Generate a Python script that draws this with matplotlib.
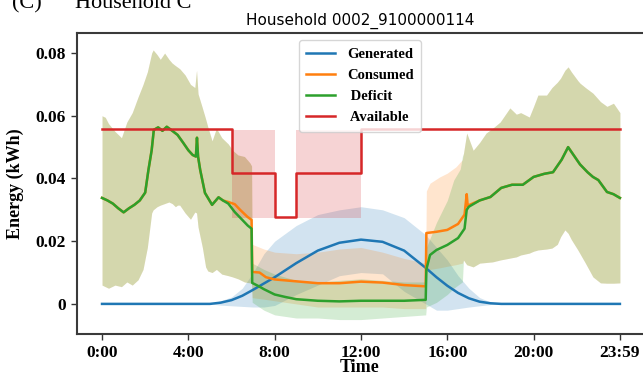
import numpy as np
import matplotlib
matplotlib.use("Agg")
import matplotlib.pyplot as plt

# hours of day for the generated series
gen_t = [0, 5.0, 5.5, 6.0, 6.5, 7.0, 7.5, 8.0, 9.0, 10.0, 11.0, 12.0, 13.0, 14.0,
         15.0, 15.5, 16.0, 16.5, 17.0, 17.5, 18.0, 18.5, 24.0]
gen_mean = [0, 0, 0.0004, 0.0012, 0.0026, 0.0045, 0.0065, 0.0085, 0.0130, 0.0170, 0.0195,
            0.0205, 0.0198, 0.0170, 0.0115, 0.0085, 0.0058, 0.0035, 0.0018, 0.0007, 0.0002, 0, 0]
gen_hi = [0, 0.0001, 0.0010, 0.0022, 0.0050, 0.0100, 0.0160, 0.0200, 0.0250, 0.0285, 0.0300,
          0.0310, 0.0300, 0.0275, 0.0220, 0.0180, 0.0140, 0.0090, 0.0050, 0.0020, 0.0006, 0.0001, 0]
gen_lo = [0, 0, -0.0004, -0.0006, -0.0008, -0.0010, -0.0010, -0.0005, 0.0030, 0.0060, 0.0090,
          0.0100, 0.0096, 0.0040, 0.0000, -0.0020, -0.0020, -0.0015, -0.0010, -0.0006, -0.0002, 0, 0]

con_t = [0.0, 0.25, 0.5, 0.75, 1.0, 1.25, 1.5, 1.75, 2.0, 2.15, 2.3, 2.4, 2.6, 2.8, 3.0, 3.2,
         3.5, 3.75, 4.0, 4.2, 4.35, 4.4, 4.45, 4.55, 4.77, 5.1, 5.4, 5.6, 5.85, 6.15, 6.4, 6.75,
         6.93, 6.96, 7.3, 7.6, 8.0, 9.0, 10.0, 11.0, 12.0, 13.0, 14.0, 15.0, 15.03, 15.5, 16.0,
         16.5, 16.8, 16.9, 16.95, 17.0, 17.5, 18.0, 18.5, 19.0, 19.5, 20.0, 20.5, 20.9, 21.3,
         21.6, 21.9, 22.15, 22.5, 22.75, 23.0, 23.4, 23.7, 24.0]
con_mean = [0.0338, 0.0330, 0.0320, 0.0305, 0.0292, 0.0305, 0.0316, 0.0330, 0.0355, 0.0427,
            0.0490, 0.0555, 0.0563, 0.0552, 0.0565, 0.0555, 0.0539, 0.0515, 0.0490, 0.0475,
            0.0470, 0.0530, 0.0470, 0.0427, 0.0354, 0.0316, 0.0340, 0.0330, 0.0325, 0.0318,
            0.0300, 0.0277, 0.0268, 0.0102, 0.0100, 0.0085, 0.0078, 0.0072, 0.0066, 0.0066,
            0.0071, 0.0068, 0.0060, 0.0056, 0.0226, 0.0230, 0.0236, 0.0255, 0.0285, 0.0350,
            0.0310, 0.0315, 0.0330, 0.0341, 0.0370, 0.0380, 0.0380, 0.0405, 0.0415, 0.0420,
            0.0460, 0.0500, 0.0470, 0.0445, 0.0420, 0.0405, 0.0395, 0.0357, 0.0350, 0.0338]

def_t = [0.0, 0.25, 0.5, 0.75, 1.0, 1.25, 1.5, 1.75, 2.0, 2.15, 2.3, 2.4, 2.6, 2.8, 3.0, 3.2,
         3.5, 3.75, 4.0, 4.2, 4.35, 4.4, 4.45, 4.55, 4.77, 5.1, 5.4, 5.6, 5.85, 6.15, 6.5, 6.75,
         6.93, 6.96, 7.3, 7.5, 8.0, 8.5, 9.0, 10.0, 11.0, 12.0, 13.0, 14.0, 15.0, 15.03, 15.2,
         15.5, 16.0, 16.5, 16.8, 16.9, 17.0, 17.5, 18.0, 18.5, 19.0, 19.5, 20.0, 20.5, 20.9,
         21.3, 21.6, 21.9, 22.15, 22.5, 22.75, 23.0, 23.4, 23.7, 24.0]
def_mean = [0.0338, 0.0330, 0.0320, 0.0305, 0.0292, 0.0305, 0.0316, 0.0330, 0.0355, 0.0427,
            0.0490, 0.0555, 0.0563, 0.0552, 0.0565, 0.0555, 0.0539, 0.0515, 0.0490, 0.0475,
            0.0470, 0.0530, 0.0470, 0.0427, 0.0354, 0.0316, 0.0340, 0.0330, 0.0320, 0.0293,
            0.0268, 0.0250, 0.0240, 0.0067, 0.0055, 0.0047, 0.0030, 0.0022, 0.0015, 0.0010,
            0.0008, 0.0010, 0.0010, 0.0010, 0.0013, 0.0110, 0.0156, 0.0172, 0.0188, 0.0210,
            0.0240, 0.0300, 0.0310, 0.0330, 0.0341, 0.0370, 0.0380, 0.0380, 0.0405, 0.0415,
            0.0420, 0.0460, 0.0500, 0.0470, 0.0445, 0.0420, 0.0405, 0.0395, 0.0357, 0.0350, 0.0338]

# spread shared by consumed and deficit before the drop and in the evening
early_t = [0.0, 0.15, 0.3, 0.6, 0.9, 1.15, 1.4, 1.67, 1.9, 2.1, 2.3, 2.37, 2.55, 2.7, 2.9, 3.1,
           3.25, 3.4, 3.5, 3.6, 3.85, 4.1, 4.3, 4.38, 4.45, 4.65, 4.8, 4.9, 5.1, 5.3, 5.55,
           5.85, 6.05, 6.3, 6.6, 6.85, 6.93]
early_hi = [0.0600, 0.0595, 0.0575, 0.0550, 0.0530, 0.0580, 0.0610, 0.0660, 0.0700, 0.0740,
            0.0800, 0.0810, 0.0795, 0.0780, 0.0800, 0.0780, 0.0768, 0.0760, 0.0755, 0.0750,
            0.0730, 0.0700, 0.0690, 0.0745, 0.0670, 0.0625, 0.0590, 0.0565, 0.0520, 0.0560,
            0.0530, 0.0510, 0.0490, 0.0475, 0.0470, 0.0450, 0.0440]
early_lo = [0.0060, 0.0055, 0.0050, 0.0060, 0.0055, 0.0070, 0.0060, 0.0077, 0.0110, 0.0180,
            0.0290, 0.0300, 0.0310, 0.0315, 0.0320, 0.0325, 0.0320, 0.0310, 0.0315, 0.0315,
            0.0290, 0.0270, 0.0293, 0.0290, 0.0245, 0.0180, 0.0118, 0.0105, 0.0100, 0.0110,
            0.0095, 0.0090, 0.0086, 0.0080, 0.0070, 0.0067, 0.0066]

late_t = [16.75, 16.9, 17.2, 17.5, 17.8, 18.1, 18.45, 18.9, 19.2, 19.4, 19.8, 20.0, 20.2, 20.6,
          20.85, 21.1, 21.25, 21.45, 21.6, 21.75, 22.05, 22.15, 22.4, 22.75, 23.1, 23.4, 23.7, 24.0]
late_hi = [0.0480, 0.0545, 0.0490, 0.0515, 0.0545, 0.0560, 0.0580, 0.0625, 0.0605, 0.0610,
           0.0596, 0.0630, 0.0666, 0.0666, 0.0690, 0.0707, 0.0720, 0.0745, 0.0756, 0.0740,
           0.0712, 0.0704, 0.0690, 0.0672, 0.0645, 0.0630, 0.0640, 0.0610]
late_lo = [0.0140, 0.0125, 0.0118, 0.0130, 0.0132, 0.0134, 0.0140, 0.0146, 0.0150, 0.0156,
           0.0162, 0.0168, 0.0172, 0.0175, 0.0178, 0.0190, 0.0214, 0.0236, 0.0225, 0.0205,
           0.0172, 0.0160, 0.0130, 0.0086, 0.0067, 0.0066, 0.0066, 0.0067]

con_mid_t = [6.96, 7.5, 8.0, 9.0, 10.0, 11.0, 12.0, 13.0, 14.0, 15.0, 15.03, 15.2, 15.65,
             16.0, 16.4, 16.7]
con_mid_hi = [0.0190, 0.0175, 0.0165, 0.0160, 0.0165, 0.0175, 0.0180, 0.0165, 0.0145, 0.0130,
              0.0360, 0.0385, 0.0405, 0.0417, 0.0437, 0.0460]
con_mid_lo = [0.0020, 0.0015, 0.0010, 0.0000, -0.0010, -0.0010, -0.0010, -0.0010, -0.0015,
              -0.0015, 0.0100, 0.0110, 0.0115, 0.0120, 0.0125, 0.0130]

def_mid_t = [6.96, 7.5, 8.0, 9.0, 10.0, 11.0, 12.0, 13.0, 14.0, 15.0, 15.03, 15.5, 16.0,
             16.3, 16.6, 16.7]
def_mid_hi = [0.0130, 0.0110, 0.0095, 0.0075, 0.0070, 0.0075, 0.0080, 0.0075, 0.0070, 0.0070,
              0.0180, 0.0260, 0.0330, 0.0395, 0.0430, 0.0470]
def_mid_lo = [0.0005, -0.0020, -0.0035, -0.0045, -0.0045, -0.0050, -0.0050, -0.0045, -0.0040,
              -0.0035, -0.0010, 0.0005, 0.0030, 0.0050, 0.0065, 0.0070]

avail_t = [0, 6, 8, 9, 12, 24]
avail_v = [0.0558, 0.0416, 0.0278, 0.0416, 0.0558, 0.0558]
avail_hi = [0.0558, 0.0554, 0.0278, 0.0554, 0.0558, 0.0558]
avail_lo = [0.0558, 0.0274, 0.0278, 0.0274, 0.0558, 0.0558]

xtick_pos = [0, 4, 8, 12, 16, 20, 23 + 59 / 60]
xtick_labels = ['0:00', '4:00', '8:00', '12:00', '16:00', '20:00', '23:59']
ytick_pos = [0, 0.02, 0.04, 0.06, 0.08]
ytick_labels = ['0', '0.02', '0.04', '0.06', '0.08']

serif = 'Liberation Serif'
c_gen, c_con, c_def, c_av = '#1f77b4', '#ff7f0e', '#2ca02c', '#d62728'

fig = plt.figure(figsize=(6.43, 3.77), dpi=100)
ax = fig.add_axes([77 / 643, 43 / 377, 1 - 77 / 643, 301 / 377])

band_t_con = early_t + con_mid_t + late_t
band_t_def = early_t + def_mid_t + late_t

ax.fill_between(gen_t, gen_lo, gen_hi, color=c_gen, alpha=0.2, lw=0)
ax.fill_between(band_t_con, early_lo + con_mid_lo + late_lo, early_hi + con_mid_hi + late_hi,
                color=c_con, alpha=0.2, lw=0)
ax.fill_between(band_t_def, early_lo + def_mid_lo + late_lo, early_hi + def_mid_hi + late_hi,
                color=c_def, alpha=0.2, lw=0)
ax.fill_between(avail_t, avail_lo, avail_hi, step='post', color=c_av, alpha=0.2, lw=0)

ax.plot(gen_t, gen_mean, color=c_gen, lw=1.8, label='Generated')
ax.plot(con_t, con_mean, color=c_con, lw=1.8, label='Consumed')
ax.plot(def_t, def_mean, color=c_def, lw=1.8, label=' Deficit')
ax.plot(avail_t, avail_v, color=c_av, lw=1.8, drawstyle='steps-post', label=' Available')

ax.set_xlim(-1.16, 25.07)
ax.set_ylim(-0.0096, 0.0864)
ax.set_xticks(xtick_pos)
ax.set_xticklabels(xtick_labels, fontfamily=serif, fontweight='bold', fontsize=12.5)
ax.set_yticks(ytick_pos)
ax.set_yticklabels(ytick_labels, fontfamily=serif, fontweight='bold', fontsize=12.5)
ax.tick_params(length=4, width=1, color='#333333', pad=4)

for side in ['left', 'bottom', 'top']:
    ax.spines[side].set_linewidth(1.5)
    ax.spines[side].set_color('#3a3a3a')
ax.spines['right'].set_visible(False)

ax.set_xlabel('Time', fontfamily=serif, fontweight='bold', fontsize=13, va='center')
ax.xaxis.set_label_coords(0.5, -(368 - 334) / 301)
ax.set_ylabel('Energy (kWh)', fontfamily=serif, fontweight='bold', fontsize=13, labelpad=8)
ax.set_title('Household 0002_9100000114', fontsize=11, pad=6)

ax.legend(loc='upper center', bbox_to_anchor=(0.5, 1.0),
          prop={'family': serif, 'weight': 'bold', 'size': 10.5},
          handlelength=2.0, labelspacing=0.55, borderpad=0.5)

fig.text(12 / 643, 1 - 8 / 377, '(C)', fontfamily=serif, fontsize=16, va='baseline')
fig.text(75 / 643, 1 - 8 / 377, 'Household C', fontfamily=serif, fontsize=16, va='baseline')

fig.savefig('out.png', dpi=100)
